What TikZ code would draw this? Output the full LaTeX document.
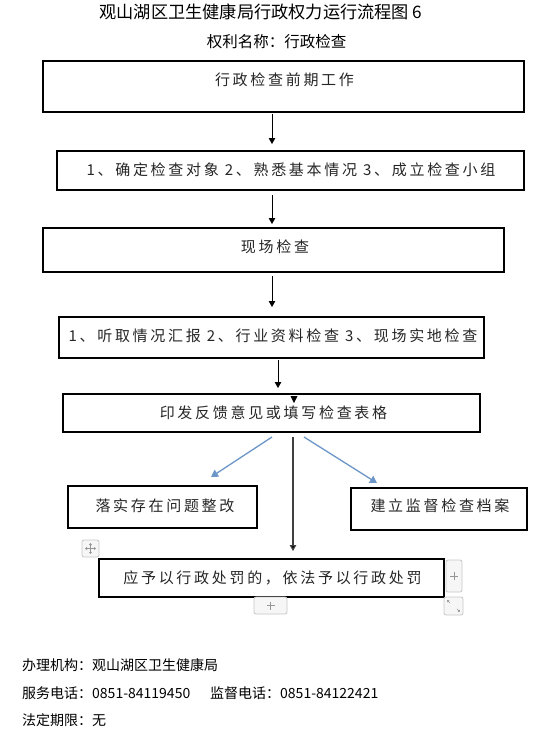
\documentclass[tikz,border=0pt]{standalone}
\usepackage{fontspec}
\setmainfont{Noto Sans CJK SC}
\newfontfamily\cjk{Noto Sans CJK SC}
\newfontfamily\boxfont[LetterSpace=18]{Noto Sans CJK SC}
\usetikzlibrary{arrows.meta}
\definecolor{arrblue}{RGB}{108,150,200}
\definecolor{btnborder}{RGB}{200,200,200}
\definecolor{btnfill}{RGB}{246,246,246}
\definecolor{icongray}{RGB}{150,150,150}
\tikzset{
  stepbox/.style={draw=black, line width=1.3pt, inner sep=0pt, fill=white},
  boxtxt/.style={inner sep=0pt, font=\boxfont\fontsize{15}{17}\selectfont, text=black!85},
  foot/.style={inner sep=0pt, anchor=west, font=\cjk\fontsize{14}{16}\selectfont},
  arr/.style={draw=black, line width=1pt, -{Triangle[length=6pt,width=6.5pt]}},
  bluearr/.style={draw=arrblue, line width=1.3pt, -{Triangle[length=7pt,width=8pt]}},
  btn/.style={draw=btnborder, fill=btnfill, line width=0.8pt, rounded corners=2pt},
}
\begin{document}
\begin{tikzpicture}[x=1pt,y=-1pt]
\useasboundingbox[fill=white] (0,0) rectangle (545,732);

% titles
\node[inner sep=0pt, font=\cjk\fontsize{17.2}{19}\selectfont] (title) at (261,12) {观山湖区卫生健康局行政权力运行流程图 6};
\node[inner sep=0pt, font=\cjk\fontsize{15.5}{17}\selectfont] (sub) at (276.5,42) {权利名称：行政检查};

% boxes
\node[stepbox, minimum width=481, minimum height=51] (b1) at (283.5,86.5) {};
\node[boxtxt] (t1) at (284.5,80) {行政检查前期工作};

\node[stepbox, minimum width=467, minimum height=39] (b2) at (290.5,170.5) {};
\node[boxtxt] (t2) at (291,170) {1、确定检查对象 2、熟悉基本情况 3、成立检查小组};

\node[stepbox, minimum width=461, minimum height=44] (b3) at (273.5,250) {};
\node[boxtxt] (t3) at (275,247) {现场检查};

\node[stepbox, minimum width=425, minimum height=41] (b4) at (271.5,337.5) {};
\node[boxtxt] (t4) at (273,336) {1、听取情况汇报 2、行业资料检查 3、现场实地检查};

\node[stepbox, minimum width=417, minimum height=38] (b5) at (271.5,413) {};
\node[boxtxt] (t5) at (273.5,413) {印发反馈意见或填写检查表格};

\node[stepbox, minimum width=189, minimum height=42] (b6) at (162.5,507) {};
\node[boxtxt] (t6) at (165,506) {落实存在问题整改};

\node[stepbox, minimum width=176, minimum height=42] (b7) at (439,509) {};
\node[boxtxt] (t7) at (440,506) {建立监督检查档案};

\node[stepbox, minimum width=345, minimum height=38] (b8) at (271.5,578) {};
\node[boxtxt] (t8) at (272.5,578) {应予以行政处罚的，依法予以行政处罚};

% arrow end points
\coordinate (a1s) at (272,114); \coordinate (a1e) at (272,144);
\coordinate (a2s) at (272,195); \coordinate (a2e) at (272,224);
\coordinate (a3s) at (272,276); \coordinate (a3e) at (272,307);
\coordinate (a4s) at (278,360); \coordinate (a4e) at (278,388);
\coordinate (c5s) at (293,437); \coordinate (c5e) at (293,551);
\coordinate (l5s) at (272,437); \coordinate (l5e) at (211,477);
\coordinate (r5s) at (304,437); \coordinate (r5e) at (377,483);

\draw[arr] (a1s) -- (a1e);
\draw[arr] (a2s) -- (a2e);
\draw[arr] (a3s) -- (a3e);
\draw[arr] (a4s) -- (a4e);
\fill[black] (290.5,396) -- (297.5,396) -- (294,403) -- cycle;
\draw[draw=black!75, line width=1.2pt, -{Triangle[length=6pt,width=6.5pt,fill=black]}] (c5s) -- (c5e);
\draw[bluearr] (l5s) -- (l5e);
\draw[bluearr] (r5s) -- (r5e);

% editor handles
\draw[btn] (82,540) rectangle (99,557);
\begin{scope}[draw=icongray, line width=0.7pt, -{Triangle[length=2pt,width=3pt]}]
\draw (90.5,548.5) -- (90.5,543);
\draw (90.5,548.5) -- (90.5,554);
\draw (90.5,548.5) -- (85,548.5);
\draw (90.5,548.5) -- (96,548.5);
\end{scope}
\draw[btn] (446,560) rectangle (462,592);
\draw[icongray, line width=0.7pt] (450,576) -- (458,576) (454,572) -- (454,580);
\draw[btn] (254,597) rectangle (287,614);
\draw[icongray, line width=0.7pt] (266.5,605.5) -- (274.5,605.5) (270.5,601.5) -- (270.5,609.5);
\draw[btn] (444,597) rectangle (463,615);
\draw[icongray, line width=0.6pt, -{Triangle[length=2pt,width=2.5pt]}] (450,603) -- (447,600);
\draw[icongray, line width=0.6pt, -{Triangle[length=2pt,width=2.5pt]}] (457,609) -- (460,612);

% footer
\node[foot] (f1) at (22,665) {办理机构：观山湖区卫生健康局};
\node[foot] (f2) at (22,693) {服务电话：0851-84119450};
\node[foot] (f3) at (210,693) {监督电话：0851-84122421};
\node[foot] (f4) at (22,720) {法定期限：无};
\end{tikzpicture}
\end{document}
